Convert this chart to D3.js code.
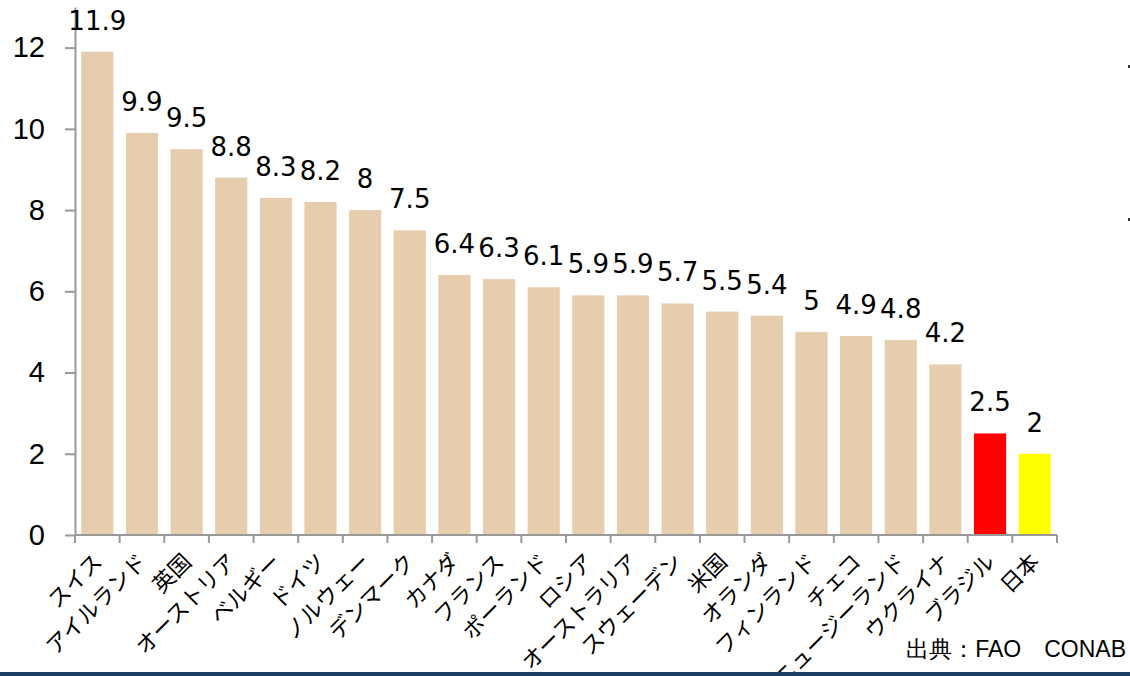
<!DOCTYPE html>
<html>
<head>
<meta charset="utf-8">
<script src="https://cdn.jsdelivr.net/npm/d3@7"></script>
<style>
  body { margin: 0; background: #fff; }
</style>
</head>
<body>
<div id="chart"></div>
<script>
// Countries, values and bar colours
const countries = ["スイス", "アイルランド", "英国", "オーストリア", "ベルギー", "ドイツ", "ノルウェー", "デンマーク",
    "カナダ", "フランス", "ポーランド", "ロシア", "オーストラリア", "スウェーデン", "米国", "オランダ",
    "フィンランド", "チェコ", "ニュージーランド", "ウクライナ", "ブラジル", "日本"];
const values = [11.9, 9.9, 9.5, 8.8, 8.3, 8.2, 8, 7.5, 6.4, 6.3, 6.1, 5.9, 5.9, 5.7, 5.5, 5.4, 5, 4.9, 4.8, 4.2, 2.5, 2];
const yTicks = [0, 2, 4, 6, 8, 10, 12];
const source = "出典：FAO　CONAB";

const W = 1130, H = 676;
const svg = d3.select("#chart").append("svg")
    .attr("width", W)
    .attr("height", H);

const x = d3.scaleBand()
    .domain(countries)
    .range([75, 1057])
    .paddingInner(0.28)
    .paddingOuter(0.14);

const y = d3.scaleLinear()
    .domain([0, 13])
    .range([535, 7]);

function barColor(name) {
    if (name === "ブラジル") return "#ff0000";
    if (name === "日本") return "#ffff00";
    return "#e6cdad";
}

// bars
svg.selectAll(".bar")
    .data(countries)
    .enter().append("rect")
    .attr("class", "bar")
    .attr("x", d => x(d))
    .attr("width", x.bandwidth())
    .attr("y", (d, i) => y(values[i]))
    .attr("height", (d, i) => y(0) - y(values[i]))
    .attr("fill", d => barColor(d));

// y axis
const yAxis = svg.append("g")
    .attr("transform", "translate(75,0)")
    .call(d3.axisLeft(y).tickValues(yTicks).tickSize(10).tickSizeOuter(0).tickPadding(20));
yAxis.select(".domain").attr("stroke", "#999").attr("stroke-width", 2);
yAxis.selectAll(".tick line").attr("stroke", "#999").attr("stroke-width", 2);
yAxis.selectAll(".tick text")
    .attr("fill", "#000")
    .style("font-family", "'Liberation Sans', Arial, sans-serif")
    .style("font-size", "29px");

// x axis line with ticks between bars
const xBase = svg.append("g");
xBase.append("line")
    .attr("x1", 75).attr("x2", 1057)
    .attr("y1", y(0)).attr("y2", y(0))
    .attr("stroke", "#999").attr("stroke-width", 2);
const step = x.step();
xBase.selectAll(".xtick")
    .data(d3.range(countries.length + 1))
    .enter().append("line")
    .attr("x1", i => 75 + i * step)
    .attr("x2", i => 75 + i * step)
    .attr("y1", y(0))
    .attr("y2", y(0) + 8)
    .attr("stroke", "#999").attr("stroke-width", 2);

// category labels, rotated
svg.selectAll(".xlabel")
    .data(countries)
    .enter().append("text")
    .attr("class", "xlabel")
    .attr("transform", d => `translate(${x(d) + x.bandwidth() / 2 + 2},${y(0) + 24}) rotate(-45)`)
    .attr("text-anchor", "end")
    .attr("dominant-baseline", "middle")
    .style("font-family", "'Noto Sans CJK JP', sans-serif")
    .style("font-size", "22px")
    .attr("fill", "#000")
    .text(d => d);

// value labels
svg.selectAll(".vlabel")
    .data(countries)
    .enter().append("text")
    .attr("class", "vlabel")
    .attr("x", d => x(d) + x.bandwidth() / 2)
    .attr("y", (d, i) => y(values[i]) - 22)
    .attr("text-anchor", "middle")
    .style("font-family", "'DejaVu Sans', Verdana, sans-serif")
    .style("font-size", "26px")
    .attr("fill", "#000")
    .text((d, i) => values[i]);

// source note
svg.append("text")
    .attr("x", 1126)
    .attr("y", 657)
    .attr("text-anchor", "end")
    .style("font-family", "'Liberation Sans', Arial, sans-serif")
    .style("font-size", "23px")
    .attr("fill", "#000")
    .text(source);

// small marks at right edge
svg.selectAll(".mark")
    .data([65, 218])
    .enter().append("rect")
    .attr("x", 1128).attr("y", d => d)
    .attr("width", 2).attr("height", 3)
    .attr("fill", "#333");

// bottom rule
svg.append("rect")
    .attr("x", 0).attr("y", 672)
    .attr("width", W).attr("height", 4)
    .attr("fill", "#1b3c63");
</script>
</body>
</html>
